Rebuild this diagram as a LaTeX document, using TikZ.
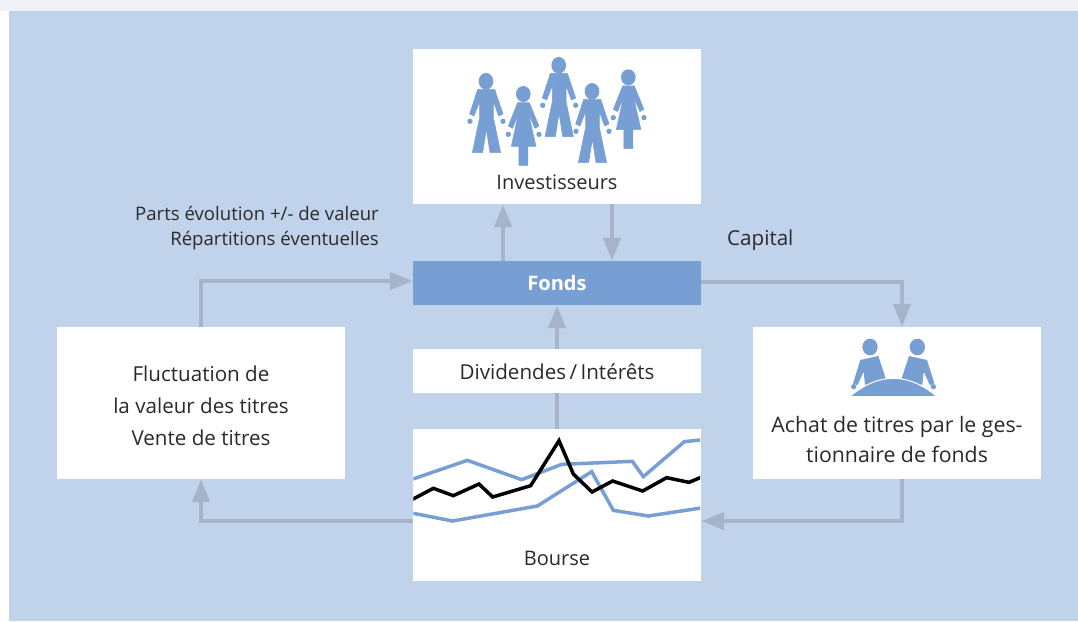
\documentclass[tikz,border=0pt]{standalone}
\usepackage{fontspec}
\setmainfont{Open Sans}
\usetikzlibrary{arrows.meta}

\definecolor{panelblue}{HTML}{C1D3EB}
\definecolor{stripblue}{HTML}{EFF3F9}
\definecolor{figblue}{HTML}{789FD3}
\definecolor{flowgrey}{HTML}{A6B4C9}
\definecolor{textdark}{HTML}{2A2A2A}

\tikzset{
    whitebox/.style={fill=white, inner sep=0pt, minimum width=288pt, text=textdark,
        font=\fontsize{20.6}{32}\selectfont, align=center},
    boxtext/.style={text=textdark, inner sep=0pt, font=\fontsize{20.6}{32}\selectfont, align=center},
    sidelabel/.style={text=textdark, inner sep=0pt, font=\fontsize{18.6}{27}\selectfont},
    flow/.style={draw=flowgrey, line width=4.6pt, -{Triangle[length=23pt,width=17pt]}},
    flowplain/.style={draw=flowgrey, line width=4.6pt},
    chartline/.style={line width=3.5pt, line join=miter},
    figure/.style={fill=figblue, draw=figblue, line width=.5pt},
    man/.pic={
        \fill[figblue] (0,0) ellipse [x radius=22, y radius=25];
        \path[figure] (-25,24) -- (-49,98) -- (-36,104) -- (-19,61) -- (-19,108) -- (-41,214)
            -- (-10,214) -- (1,144) -- (12,214) -- (44,214) -- (22,108) -- (22,61)
            -- (38,104) -- (51,98) -- (26,24) -- cycle;
        \fill[figblue] (-48,120) circle [radius=8];
        \fill[figblue] (51,120) circle [radius=8];
    },
    woman/.pic={
        \fill[figblue] (0,0) ellipse [x radius=22, y radius=24];
        \path[figure] (-17,26) -- (-45,96) -- (-32,103) -- (-15,60) -- (-36,157) -- (-13,157)
            -- (-13,214) -- (14,214) -- (14,157) -- (38,157) -- (16,60) -- (35,103)
            -- (47,96) -- (18,26) -- cycle;
        \fill[figblue] (-45,121) circle [radius=8];
        \fill[figblue] (47,121) circle [radius=8];
    },
}

\begin{document}
\begin{tikzpicture}[x=1pt, y=-1pt]
    \useasboundingbox (0,0) rectangle (1078,621);
    \fill[white] (0,0) rectangle (1078,621);
    \fill[stripblue] (0,0) rectangle (1078,11);
    \fill[panelblue] (9,11) rectangle (1078,621);

    \node[whitebox, minimum height=155pt] (invest) at (557,126.5) {};
    \node[whitebox, minimum height=44pt, fill=figblue, text=white] (fonds) at (557,283)
        {\fontsize{20}{24}\selectfont\bfseries Fonds};
    \node[whitebox, minimum height=44pt] (divid) at (557,371) {};
    \node[whitebox, minimum height=152pt] (bourse) at (557,505) {};
    \node[whitebox, minimum height=152pt] (fluct) at (201,403) {};
    \node[whitebox, minimum height=152pt] (gestion) at (897,403) {};

    \node[boxtext, font=\fontsize{20}{32}\selectfont] (investtext) at (557,182) {Investisseurs};
    \node[boxtext] (dividtext) at (557,372) {Dividendes\,/\,Intérêts};
    \node[boxtext, font=\fontsize{20}{32}\selectfont] (boursetext) at (557,558) {Bourse};
    \node[boxtext] (fluctext) at (201,405.5) {Fluctuation de\\la valeur des titres\\Vente de titres};
    \node[boxtext, font=\fontsize{21.3}{30}\selectfont] (gestiontext) at (897,440)
        {Achat de titres par le ges-\\tionnaire de fonds};

    \node[sidelabel, anchor=east] (parts) at (379,213) {Parts évolution +/- de valeur};
    \node[sidelabel, anchor=east] (repart) at (379,241) {Répartitions éventuelles};
    \node[sidelabel, anchor=west, font=\fontsize{20.6}{24}\selectfont] (capital) at (727,240) {Capital};

    % flows
    \draw[flow] ([xshift=-54]fonds.north) -- ([xshift=-54]invest.south);
    \draw[flow] ([xshift=55]invest.south) -- ([xshift=55]fonds.north);
    \draw[flow] ([yshift=1]fonds.east) -| ([xshift=5]gestion.north);
    \draw[flow] (fluct.north) |- ([yshift=2]fonds.west);
    \draw[flow] (divid.north) -- (fonds.south);
    \draw[flowplain] (bourse.north) -- (divid.south);
    \draw[flow] ([yshift=-16]bourse.west) -| (fluct.south);
    \draw[flow] ([xshift=5]gestion.south) |- ([yshift=-16]bourse.east);

    % investors
    \pic[scale=1/3] at (486,81.3) {man};
    \pic[scale=1/3] at (523.3,94) {woman};
    \pic[scale=1/3] at (558.7,65.3) {man};
    \pic[scale=1/3] at (592,91.3) {man};
    \pic[scale=1/3] at (628.3,77.3) {woman};

    % managers at the table
    \begin{scope}[shift={(750,280)}, scale=1/3]
        \fill[figblue] (360,201) ellipse [x radius=23, y radius=25];
        \fill[figblue] (502,201) ellipse [x radius=23, y radius=25];
        \fill[figblue] (331,240) -- (385,228) -- (407,295) -- (345,315) -- (341,275)
            -- (322,316) -- (309,310) -- cycle;
        \fill[figblue] (477,228) -- (531,240) -- (553,310) -- (540,316) -- (521,275)
            -- (517,315) -- (455,295) -- cycle;
        \fill[figblue] (311,320) circle [radius=8];
        \fill[figblue] (550,320) circle [radius=8];
        \filldraw[fill=figblue, draw=white, line width=1pt] (295,353) .. controls (345,310) and (390,295)
            .. (430,295) .. controls (470,295) and (515,310) .. (565,353) -- cycle;
        \fill[white] (290,347) rectangle (570,360);
    \end{scope}

    % market curves
    \begin{scope}[shift={(410,425)}, scale=1/3]
        \clip (10,0) rectangle (870,400);
        \draw[chartline, figblue] (0,165) -- (172,106) -- (335,164) -- (455,118) -- (667,109)
            -- (700,155) -- (823,50) -- (880,44);
        \draw[chartline, figblue] (0,263) -- (128,288) -- (382,243) -- (545,140) -- (610,256)
            -- (715,273) -- (880,248);
        \draw[chartline, black] (0,227) -- (70,190) -- (130,212) -- (207,177) -- (248,216)
            -- (362,182) -- (447,47) -- (490,147) -- (546,201) -- (608,168) -- (698,198)
            -- (770,158) -- (837,172) -- (880,154);
    \end{scope}
\end{tikzpicture}
\end{document}
